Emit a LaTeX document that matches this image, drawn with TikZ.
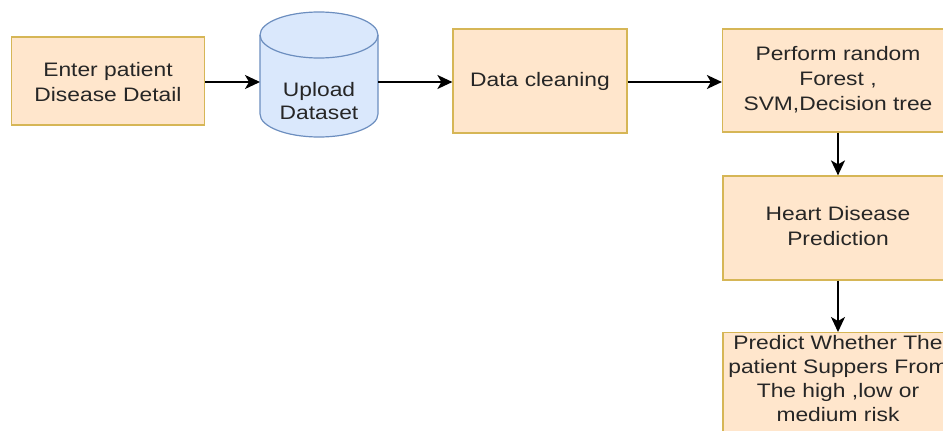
\documentclass[tikz,border=0pt]{standalone}
\usepackage{fontspec}
\setmainfont{Liberation Sans}
\usepackage{graphicx}
\usetikzlibrary{arrows.meta}
\definecolor{boxfill}{HTML}{FFE6CC}
\definecolor{boxline}{HTML}{D6B656}
\definecolor{cylfill}{HTML}{DAE8FC}
\definecolor{cylline}{HTML}{6C8EBF}
\definecolor{txt}{HTML}{262626}
\newcommand{\tx}[2][25]{\scalebox{1.17}[1]{\fontsize{19.5}{#1}\selectfont\begin{tabular}{@{}c@{}}#2\end{tabular}}}
\tikzset{
  procbox/.style={draw=boxline, fill=boxfill, line width=1.2pt, inner sep=0pt},
  lbl/.style={inner sep=0pt, text=txt},
  conn/.style={line width=1.8pt, -{Stealth[length=15pt,width=14pt,inset=4pt]}}
}
\begin{document}
\begin{tikzpicture}[x=1pt,y=-1pt]
\useasboundingbox (0,0) rectangle (943,431);
\clip (0,0) rectangle (943,431);
% boxes
\node[procbox, minimum width=193pt, minimum height=88pt] (enter) at (108,81) {};
\node[lbl] at (108,84) {\tx{Enter patient\\Disease Detail}};
% cylinder
\coordinate (cylL) at (260,82);
\coordinate (cylR) at (378,82);
\filldraw[fill=cylfill, draw=cylline, line width=1.2pt]
  (260,35) -- (260,114) arc[start angle=180, end angle=0, x radius=59, y radius=23] -- (378,35)
  arc[start angle=0, end angle=-180, x radius=59, y radius=23] -- cycle;
\draw[cylline, line width=1.2pt] (260,35) arc[start angle=180, end angle=0, x radius=59, y radius=23];
\node[lbl] (upload) at (319,103) {\tx[23]{Upload\\Dataset}};
\node[procbox, minimum width=174pt, minimum height=104pt] (clean) at (540,81) {};
\node[lbl] at (540,81) {\tx{Data cleaning}};
\node[procbox, minimum width=231pt, minimum height=103pt] (perform) at (838,80.5) {};
\node[lbl] at (838,80.5) {\tx{Perform random\\Forest ,\\SVM,Decision tree}};
\node[procbox, minimum width=230pt, minimum height=104pt] (heart) at (838,228) {};
\node[lbl] at (838,228) {\tx{Heart Disease\\Prediction}};
\node[procbox, minimum width=230pt, minimum height=120pt, anchor=north] (predict) at (838,332) {};
\node[lbl] at (838,381) {\tx[24]{Predict Whether The\\patient Suppers From\\The high ,low or\\medium risk}};
% connectors
\draw[conn] (enter.east |- cylL) -- (cylL);
\draw[conn] (cylR) -- (clean.west |- cylR);
\draw[conn] (clean.east |- cylR) -- (perform.west |- cylR);
\draw[conn] (perform.south) -- (heart.north);
\draw[conn] (heart.south) -- (predict.north);
\end{tikzpicture}
\end{document}
